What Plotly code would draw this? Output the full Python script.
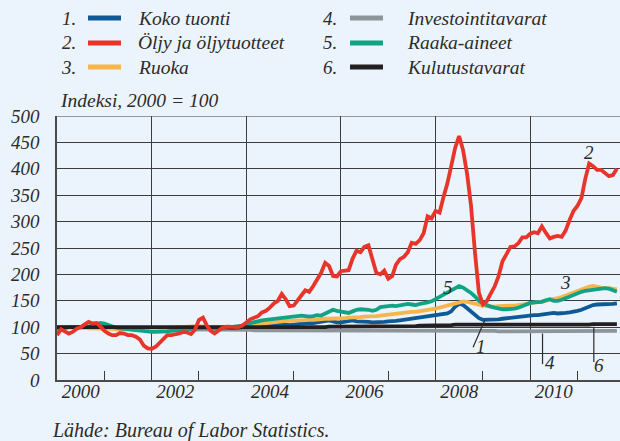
import pandas as pd
import plotly.graph_objects as go

# Monthly import price indices, 2000 = 100 (Jan 2000 - Nov 2011)
months = pd.date_range("2000-01-01", periods=143, freq="MS")

koko_tuonti = [
    99, 100, 100, 100, 100, 100, 100, 100, 100, 101, 101, 100,
    99, 99, 98, 98, 97, 97, 97, 96, 96, 96, 95, 95,
    95, 95, 96, 96, 97, 97, 97, 97, 97, 97, 98, 98,
    99, 100, 99, 98, 98, 98, 98, 98, 99, 99, 99, 100,
    101, 102, 102, 103, 103, 104, 105, 104, 104, 106, 105, 104,
    105, 106, 107, 108, 108, 108, 109, 110, 111, 113, 111, 109,
    109, 110, 112, 113, 111, 111, 110, 110, 109, 109, 109, 110,
    111, 111, 112, 113, 114, 115, 117, 118, 119, 120, 121, 121,
    122, 123, 124, 126, 130, 139, 144, 142, 136, 129, 123, 117,
    114, 114, 114, 114, 115, 116, 117, 118, 119, 120, 121, 122,
    122, 123, 123, 124, 125, 126, 127, 126, 126, 127, 128, 129,
    131, 133, 136, 139, 142, 143, 143, 144, 143, 144, 145,
]

oljy = [
    85, 96, 92, 88, 91, 97, 100, 104, 110, 107, 108, 101,
    93, 88, 85, 85, 89, 88, 85, 85, 82, 77, 65, 60,
    59, 63, 70, 80, 85, 85, 86, 88, 91, 90, 87, 95,
    114, 118, 104, 93, 88, 94, 99, 101, 101, 100, 100, 103,
    109, 115, 118, 121, 128, 131, 137, 145, 150, 163, 153, 140,
    141, 150, 160, 170, 167, 178, 192, 203, 222, 216, 197, 196,
    206, 207, 208, 230, 245, 242, 252, 255, 230, 203, 200, 207,
    192, 197, 218, 229, 233, 242, 260, 258, 265, 278, 310, 306,
    320, 317, 345, 372, 405, 440, 462, 435, 390, 330, 240, 165,
    143, 150, 163, 177, 196, 225, 238, 252, 253, 259, 270, 270,
    277, 280, 278, 291, 279, 268, 271, 273, 271, 283, 303, 320,
    330, 345, 380, 410, 405, 398, 398, 392, 386, 388, 400,
]

ruoka = [
    100, 100, 100, 100, 99, 99, 99, 99, 98, 98, 98, 98,
    97, 97, 97, 96, 96, 96, 96, 96, 96, 96, 96, 96,
    96, 96, 97, 97, 98, 99, 99, 100, 100, 101, 101, 102,
    102, 102, 101, 100, 100, 100, 100, 100, 100, 100, 101, 101,
    103, 104, 105, 106, 107, 108, 109, 110, 111, 112, 112, 112,
    113, 113, 113, 114, 114, 114, 115, 115, 116, 116, 116, 116,
    117, 117, 118, 118, 119, 119, 120, 120, 120, 121, 122, 123,
    124, 125, 125, 126, 127, 128, 129, 129, 130, 131, 132, 133,
    135, 137, 139, 141, 144, 146, 148, 149, 148, 146, 144, 142,
    141, 140, 139, 139, 140, 140, 140, 141, 141, 142, 143, 144,
    145, 146, 147, 148, 150, 152, 153, 155, 157, 160, 163, 166,
    169, 172, 175, 177, 178, 176, 175, 174, 174, 173, 171,
]

investointitavarat = [
    100, 100, 100, 100, 100, 100, 100, 100, 100, 100, 100, 100,
    99, 99, 99, 99, 99, 98, 98, 98, 98, 98, 98, 97,
    97, 97, 97, 97, 97, 97, 97, 96, 96, 96, 96, 96,
    96, 96, 96, 96, 95, 95, 95, 95, 95, 95, 95, 95,
    95, 95, 94, 94, 94, 94, 94, 94, 94, 94, 94, 94,
    94, 94, 93, 93, 93, 93, 93, 93, 93, 93, 93, 93,
    93, 93, 93, 93, 93, 93, 93, 93, 93, 93, 93, 93,
    93, 93, 93, 93, 93, 93, 93, 93, 93, 93, 93, 93,
    93, 93, 93, 94, 94, 94, 94, 94, 94, 94, 93, 93,
    93, 93, 93, 93, 92, 92, 92, 92, 92, 92, 92, 92,
    92, 92, 92, 92, 92, 92, 93, 93, 93, 93, 93, 93,
    93, 93, 93, 93, 93, 93, 93, 93, 93, 93, 93,
]

raaka_aineet = [
    95, 96, 98, 100, 100, 100, 100, 100, 101, 104, 106, 108,
    107, 104, 101, 99, 98, 97, 96, 95, 94, 93, 92, 92,
    91, 91, 91, 92, 92, 93, 94, 95, 96, 96, 97, 98,
    98, 99, 98, 98, 98, 99, 99, 99, 100, 101, 102, 103,
    106, 108, 110, 111, 113, 114, 115, 116, 117, 117, 118, 119,
    120, 121, 122, 121, 120, 121, 123, 122, 126, 131, 133, 131,
    130, 128, 127, 130, 133, 134, 134, 133, 131, 133, 138, 139,
    140, 141, 140, 141, 142, 144, 143, 142, 144, 145, 147, 149,
    153, 157, 161, 166, 170, 174, 178, 175, 170, 165, 158, 150,
    145, 141, 139, 137, 135, 134, 134, 134, 135, 137, 140, 143,
    146, 147, 148, 148, 151, 153, 150, 150, 152, 155, 159, 162,
    164, 167, 169, 170, 172, 172, 173, 174, 173, 170, 167,
]

kulutustavarat = [
    100, 100, 100, 100, 100, 100, 100, 100, 100, 100, 100, 100,
    100, 100, 100, 99, 99, 99, 99, 99, 99, 99, 99, 99,
    99, 99, 99, 99, 99, 99, 99, 99, 99, 99, 99, 99,
    99, 99, 99, 99, 99, 99, 99, 99, 99, 99, 99, 99,
    99, 100, 100, 100, 100, 100, 100, 100, 100, 100, 100, 100,
    100, 100, 100, 100, 100, 100, 100, 100, 100, 101, 101, 101,
    101, 101, 101, 101, 101, 101, 101, 101, 101, 101, 101, 101,
    101, 102, 102, 102, 102, 102, 102, 102, 103, 103, 103, 103,
    103, 104, 104, 104, 104, 105, 105, 105, 105, 104, 104, 104,
    104, 104, 104, 104, 104, 104, 104, 104, 104, 104, 104, 104,
    104, 104, 104, 104, 104, 104, 104, 104, 105, 105, 105, 105,
    105, 105, 105, 105, 106, 106, 106, 106, 106, 106, 106,
]

series_names = ["Koko tuonti", "Öljy ja öljytuotteet", "Ruoka",
                "Investointitavarat", "Raaka-aineet", "Kulutustavarat"]
series_colors = ["#0E5A97", "#E8352B", "#F6B64B", "#8D959B", "#12A385", "#231F20"]
series_values = [koko_tuonti, oljy, ruoka, investointitavarat, raaka_aineet, kulutustavarat]

y_ticks = [0, 50, 100, 150, 200, 250, 300, 350, 400, 450, 500]
grid_years = ["2002-01-01", "2004-01-01", "2006-01-01", "2008-01-01", "2010-01-01"]
odd_years = ["2001-01-01", "2003-01-01", "2005-01-01", "2007-01-01", "2009-01-01", "2011-01-01"]
label_years = ["2000", "2002", "2004", "2006", "2008", "2010"]

SERIF = "Liberation Serif"
INK = "#2B2B2B"
BG = "#EBF4FC"
W, H = 620, 441
ML, MR, MT, MB = 57, 0, 116, 61


def px_x(x):
    return (x - ML) / (W - ML - MR)


def px_y(y):
    return (H - MB - y) / (H - MT - MB)


def year_date(v):
    y = int(v)
    return (pd.Timestamp(f"{y}-01-01") + pd.Timedelta(days=(v - y) * 365.25)).strftime("%Y-%m-%d")


def ifont(size):
    return dict(family=SERIF, size=size, color=INK, style="italic")


fig = go.Figure()

# draw order: capital goods, total, food, raw materials, consumer goods, oil
for i in [3, 0, 2, 4, 5, 1]:
    fig.add_trace(go.Scatter(
        x=months, y=series_values[i], mode="lines", name=series_names[i],
        line=dict(color=series_colors[i], width=3.8), showlegend=False,
        hoverinfo="skip",
    ))

# carrier for the year-gridline axis
fig.add_trace(go.Scatter(x=[], y=[], xaxis="x2", showlegend=False, hoverinfo="skip"))

fig.update_layout(
    width=W, height=H,
    margin=dict(l=ML, r=MR, t=MT, b=MB),
    paper_bgcolor=BG, plot_bgcolor=BG,
    font=ifont(19),
    xaxis=dict(
        type="date", range=["2000-01-01", "2011-11-25"],
        tickvals=[f"{y}-07-02" for y in label_years], ticktext=label_years,
        ticks="", showgrid=False, zeroline=False,
        showline=True, linecolor="#4A4A4A", linewidth=2,
        tickfont=ifont(19),
        ticklabelstandoff=-7,
        minor=dict(tickvals=odd_years, ticks="inside", ticklen=9,
                   tickcolor="#3A3A3A", tickwidth=1.2, showgrid=False),
    ),
    xaxis2=dict(
        type="date", overlaying="x", anchor="y", range=["2000-01-01", "2011-11-25"],
        tickvals=grid_years, showticklabels=False, ticks="",
        showgrid=True, gridcolor="#3C3C3C", gridwidth=1, zeroline=False, showline=False,
        layer="below traces",
    ),
    yaxis=dict(
        range=[0, 500], tickvals=y_ticks, ticks="",
        showgrid=True, gridcolor="#3C3C3C", gridwidth=1, zeroline=False,
        showline=True, linecolor="#4A4A4A", linewidth=1.5,
        tickfont=ifont(19),
        ticklabelstandoff=12,
    ),
)

# top border of plot at 500
fig.add_shape(type="line", xref="paper", yref="y", x0=0, x1=1, y0=500, y1=500,
              line=dict(color="#3C3C3C", width=1), layer="below")

# series number labels with leader lines
fig.add_shape(type="line", xref="x", yref="y",
              x0=year_date(2008.795), y0=62, x1=year_date(2009.04), y1=113,
              line=dict(color=INK, width=1.2))
fig.add_shape(type="line", xref="x", yref="y",
              x0=year_date(2010.262), y0=30, x1=year_date(2010.262), y1=88,
              line=dict(color=INK, width=1.2))
fig.add_shape(type="line", xref="x", yref="y",
              x0=year_date(2011.347), y0=34, x1=year_date(2011.347), y1=101,
              line=dict(color=INK, width=1.2))

num_labels = [("1", 2008.96, 64), ("2", 2011.25, 430), ("3", 2010.74, 184),
              ("4", 2010.42, 34), ("5", 2008.26, 176), ("6", 2011.46, 27)]
for txt, xv, yv in num_labels:
    fig.add_annotation(x=year_date(xv), y=yv, xref="x", yref="y", text=txt,
                       showarrow=False, font=ifont(19))

# legend: number, colour sample, name in two columns
legend_cols = [(78, 88, 121, 136), (339, 350, 383, 405)]
legend_rows = [18, 43, 67]
for i in range(6):
    col = legend_cols[i // 3]
    row = legend_rows[i % 3]
    num_right, l0, l1, text_left = col
    fig.add_annotation(x=px_x(num_right), y=px_y(row), xref="paper", yref="paper",
                       text=f"{i + 1}.", showarrow=False, xanchor="right", yanchor="middle",
                       font=ifont(19))
    fig.add_shape(type="line", xref="paper", yref="paper",
                  x0=px_x(l0), x1=px_x(l1), y0=px_y(row), y1=px_y(row),
                  line=dict(color=series_colors[i], width=5))
    fig.add_annotation(x=px_x(text_left), y=px_y(row), xref="paper", yref="paper",
                       text=series_names[i], showarrow=False, xanchor="left", yanchor="middle",
                       font=ifont(19.5))

fig.add_annotation(x=px_x(58), y=px_y(101), xref="paper", yref="paper",
                   text="Indeksi, 2000 = 100", showarrow=False, xanchor="left", yanchor="middle",
                   font=ifont(19.5))
fig.add_annotation(x=px_x(50), y=px_y(430), xref="paper", yref="paper",
                   text="Lähde: Bureau of Labor Statistics.", showarrow=False,
                   xanchor="left", yanchor="middle",
                   font=ifont(20))

fig.write_html("out.html")
